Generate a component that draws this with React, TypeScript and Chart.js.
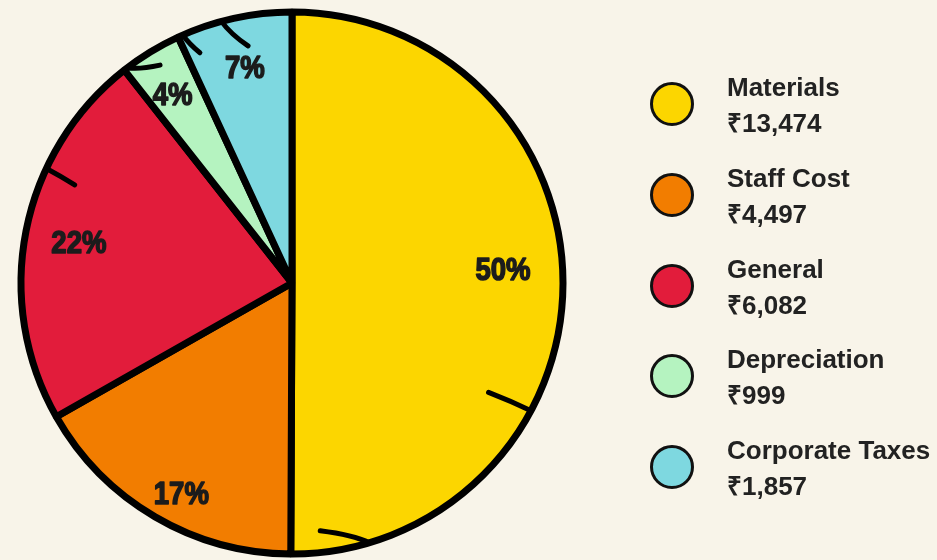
import React, { useEffect, useRef } from "react";
import { Chart, registerables } from "chart.js";

Chart.register(...registerables);

const categories = ["Materials", "Staff Cost", "General", "Depreciation", "Corporate Taxes"];
const amounts = [13474, 4497, 6082, 999, 1857];
const amountLabels = ["₹13,474", "₹4,497", "₹6,082", "₹999", "₹1,857"];
const colors = ["#FCD600", "#F27D00", "#E21C3B", "#B5F3C0", "#7ED8E0"];

const BG = "#F8F4E9";

// largest remainder percentages (sum to 100)
function percents(vals: number[]): number[] {
  const total = vals.reduce((a, b) => a + b, 0);
  const raw = vals.map((v) => (v / total) * 100);
  const fl = raw.map((r) => Math.floor(r));
  const rest = 100 - fl.reduce((a, b) => a + b, 0);
  const order = raw.map((r, i) => [r - Math.floor(r), i]).sort((a, b) => b[0] - a[0]);
  for (let k = 0; k < rest; k++) fl[order[k][1]] += 1;
  return fl;
}

const labelRadius = [0.78, 0.88, 0.8, 0.82, 0.81];
const labelShift = [-3.6, -2.7, -0.5, -1, 0];
const hairs: number[][] = [
  [205, 204.3, 0.88],
  [232.6, 238.8, 0.94],
  [246.2, 248.2, 0.915],
  [254.9, 259.5, 0.89],
  [28.1, 29.1, 0.83],
  [73.4, 83.5, 0.92],
];

const piePlugin = {
  id: "pieDecor",
  afterDatasetsDraw(chart: any) {
    const ctx = chart.ctx;
    const meta = chart.getDatasetMeta(0);
    const arc0 = meta.data[0];
    const cx = arc0.x;
    const cy = arc0.y;
    const R = arc0.outerRadius;
    ctx.save();
    ctx.strokeStyle = "#000";
    ctx.lineCap = "round";
    hairs.forEach(([a1, a2, f]) => {
      const t1 = (a1 * Math.PI) / 180;
      const t2 = (a2 * Math.PI) / 180;
      const x1 = cx + Math.cos(t1) * R;
      const y1 = cy + Math.sin(t1) * R;
      const x2 = cx + Math.cos(t2) * R * f;
      const y2 = cy + Math.sin(t2) * R * f;
      const mx = (x1 + x2) / 2 + (cx + (Math.cos(t1) * R * (1 + f)) / 2 - (x1 + x2) / 2) * 0.4;
      const my = (y1 + y2) / 2 + (cy + (Math.sin(t1) * R * (1 + f)) / 2 - (y1 + y2) / 2) * 0.4;
      ctx.beginPath();
      ctx.lineWidth = 5;
      ctx.moveTo(x1, y1);
      ctx.quadraticCurveTo(mx, my, x2, y2);
      ctx.stroke();
    });
    const pcts = percents(amounts);
    ctx.fillStyle = "#1C1C1C";
    ctx.strokeStyle = "#1C1C1C";
    ctx.lineWidth = 1.6;
    ctx.lineJoin = "round";
    ctx.font = "bold 32px 'Liberation Sans', Arial, sans-serif";
    ctx.textAlign = "center";
    ctx.textBaseline = "middle";
    meta.data.forEach((arc: any, i: number) => {
      const mid = (arc.startAngle + arc.endAngle) / 2 + (labelShift[i] * Math.PI) / 180;
      const r = R * labelRadius[i];
      const x = cx + Math.cos(mid) * r;
      const y = cy + Math.sin(mid) * r + 1;
      ctx.save();
      ctx.translate(x, y);
      ctx.scale(0.86, 1);
      const txt = pcts[i] + "%";
      ctx.fillText(txt, 0, 0);
      ctx.strokeText(txt, 0, 0);
      ctx.restore();
    });
    ctx.restore();
  },
};

export default function App() {
  const ref = useRef<HTMLCanvasElement | null>(null);
  useEffect(() => {
    if (!ref.current) return;
    const chart = new Chart(ref.current, {
      type: "pie",
      data: {
        labels: categories,
        datasets: [
          {
            data: amounts,
            backgroundColor: colors,
            borderColor: "#000",
            borderWidth: 7,
          },
        ],
      },
      options: {
        responsive: false,
        animation: false,
        devicePixelRatio: 1,
        radius: 271,
        layout: { padding: { left: 0, right: 353, top: 6, bottom: 0 } },
        plugins: {
          legend: { display: false },
          tooltip: { enabled: false },
        },
      } as any,
      plugins: [piePlugin],
    });
    return () => chart.destroy();
  }, []);

  const legendCenter = [104, 195, 286, 376, 467];
  const textStyle: React.CSSProperties = {
    position: "absolute",
    left: 727,
    fontFamily: "'Liberation Sans', Arial, sans-serif",
    fontWeight: 700,
    fontSize: 26,
    lineHeight: "30px",
    height: 30,
    color: "#222",
    whiteSpace: "nowrap",
  };
  return (
    <div
      style={{
        position: "absolute",
        left: 0,
        top: 0,
        width: 937,
        height: 560,
        background: BG,
        overflow: "hidden",
      }}
    >
      <canvas ref={ref} width={937} height={560} style={{ position: "absolute", left: 0, top: 0 }} />
      {categories.map((c, i) => (
        <div key={c}>
          <div
            style={{
              position: "absolute",
              left: 650,
              top: legendCenter[i] - 22,
              width: 38,
              height: 38,
              borderRadius: "50%",
              background: colors[i],
              border: "3px solid #111",
            }}
          />
          <div style={{ ...textStyle, top: legendCenter[i] - 8.5 - 24 }}>{c}</div>
          <div style={{ ...textStyle, top: legendCenter[i] + 28 - 24 }}>{amountLabels[i]}</div>
        </div>
      ))}
    </div>
  );
}
